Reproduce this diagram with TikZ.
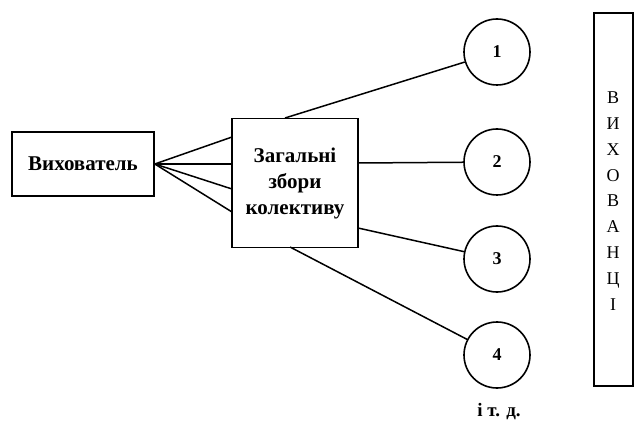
\documentclass[tikz,border=0pt]{standalone}
\usepackage{fontspec}
\setmainfont{Liberation Serif}
\begin{document}
\begin{tikzpicture}[x=1pt,y=-1pt,
  box/.style={draw,line width=1.6pt,inner sep=0pt},
  circ/.style={draw,circle,line width=1.6pt,minimum size=66pt,inner sep=0pt,font=\fontsize{18}{18}\selectfont\bfseries},
  conn/.style={line width=1.5pt},
  txt/.style={font=\fontsize{21}{26}\selectfont\bfseries}]
\useasboundingbox (0,0) rectangle (634,430);
\node[box,minimum width=142pt,minimum height=64pt,txt] (vyh) at (83,164) {Вихователь};
\node[box,minimum width=126pt,minimum height=129pt,txt,align=center] (zb) at (295,183) {Загальні\\збори\\колективу};
\node[circ] (c1) at (497,52) {1};
\node[circ] (c2) at (497,162) {2};
\node[circ] (c3) at (497,259) {3};
\node[circ] (c4) at (497,355) {4};
\node[box,minimum width=39pt,minimum height=373pt] (vv) at (613.5,199.5) {};
\node[font=\fontsize{18}{25.9}\selectfont,align=center,anchor=north] (lt) at (613,88) {В\\И\\Х\\О\\В\\А\\Н\\Ц\\І};
\node[font=\fontsize{19}{19}\selectfont\bfseries] (etc) at (499,412) {і т. д.};
\coordinate (e1) at (232,137);
\coordinate (e2) at (232,164);
\coordinate (e3) at (232,189);
\coordinate (e4) at (232,212);
\foreach \i in {1,...,4}{\draw[conn] (vyh.east) -- (e\i);}
\coordinate (s1) at (285,118);
\coordinate (s2) at (358,163);
\coordinate (s3) at (358,228);
\coordinate (s4) at (290,247);
\foreach \i in {1,...,4}{\draw[conn] (s\i) -- (c\i);}
\end{tikzpicture}
\end{document}
